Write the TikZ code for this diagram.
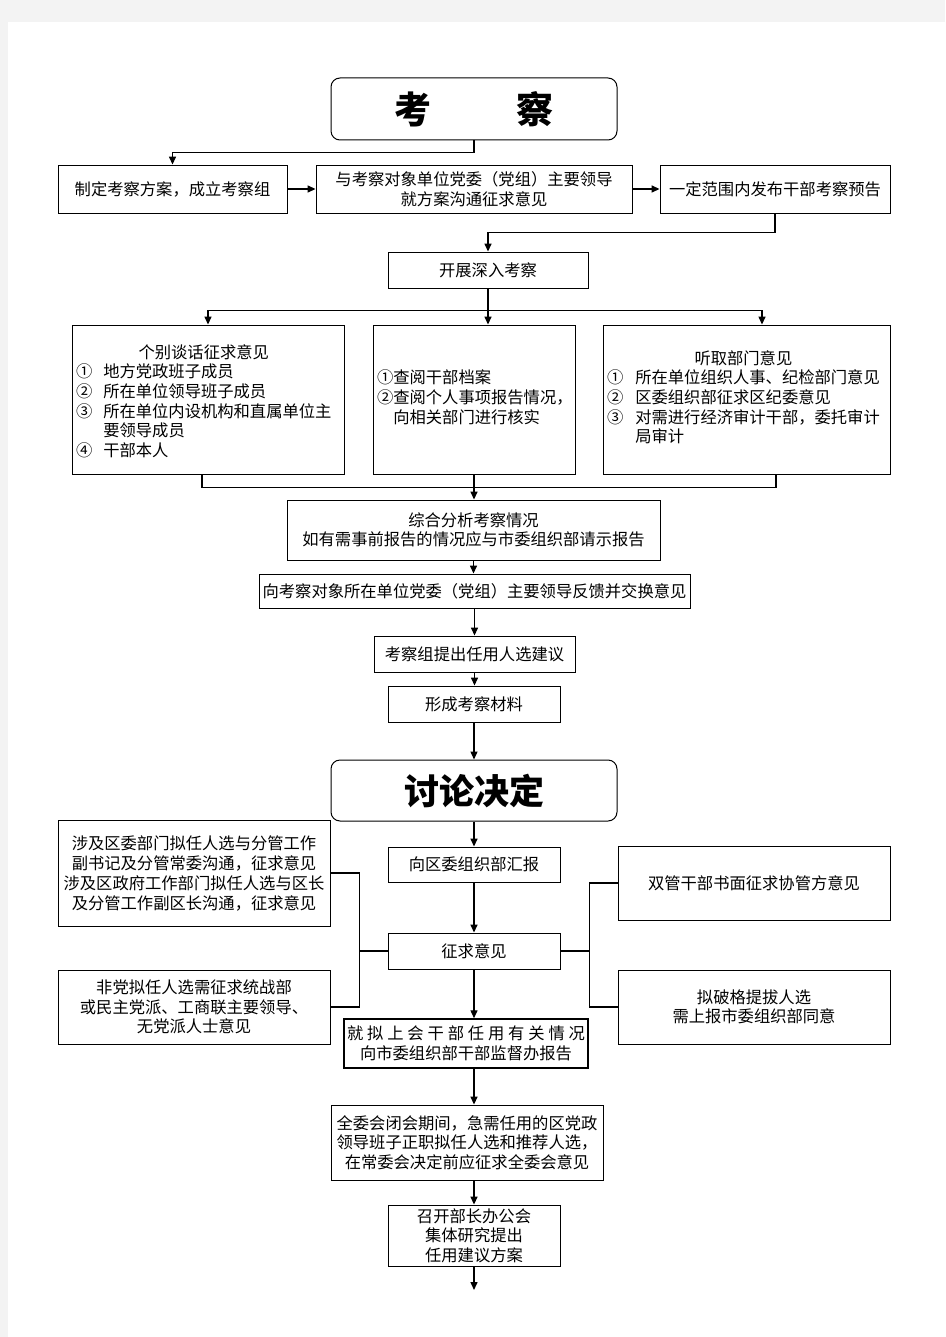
\documentclass[tikz,border=0pt]{standalone}
\usepackage{fontspec}
\newfontfamily\cjk{Noto Sans CJK SC}
\usetikzlibrary{arrows.meta}
\definecolor{pagegray}{HTML}{F3F3F3}
\begin{document}
\begin{tikzpicture}[x=1pt, y=-1pt,
  every node/.style={font=\cjk\fontsize{16.3}{19.5}\selectfont, inner sep=0pt, align=center},
  box/.style={draw, line width=0.9pt},
  titlebox/.style={draw, line width=1pt, rounded corners=9pt, minimum width=286pt, font=\cjk\bfseries\fontsize{37}{40}\selectfont},
  arr/.style={line width=1.4pt, -{Triangle[length=8pt,width=7pt]}},
  con/.style={line width=1.4pt}]
\fill[pagegray] (0,0) rectangle (945,1337);
\fill[white] (8,22) rectangle (945,1337);
\useasboundingbox (0,0) rectangle (945,1337);

\node[titlebox, minimum height=62pt] (kc) at (474,109) {考\hspace{85pt}察};
\node[box, minimum width=229pt, minimum height=48pt] (fa) at (172.5,189) {制定考察方案，成立考察组};
\node[box, minimum width=316pt, minimum height=48pt] (gt) at (474,189) {与考察对象单位党委（党组）主要领导\\就方案沟通征求意见};
\node[box, minimum width=230pt, minimum height=48pt] (yg) at (775,189) {一定范围内发布干部考察预告};
\node[box, minimum width=200pt, minimum height=36pt] (kz) at (488,270) {开展深入考察};
\node[box, minimum width=272pt, minimum height=149pt, text width=264pt, align=left] (th) at (208,399.5) {%
  \begin{tabular}{@{}l@{\hspace{11pt}}l@{}}
  \multicolumn{2}{c}{\rule{0pt}{21.6pt}个别谈话征求意见}\\
  ① & 地方党政班子成员\\
  ② & 所在单位领导班子成员\\
  ③ & 所在单位内设机构和直属单位主\\
    & 要领导成员\\
  ④ & 干部本人
  \end{tabular}};
\node[box, minimum width=202pt, minimum height=149pt, text width=194pt, align=left] (da) at (474,399.5) {%
  \begin{tabular}{@{}l@{}l@{}}
  ① & 查阅干部档案\\
  ② & 查阅个人事项报告情况，\\
    & 向相关部门进行核实
  \end{tabular}};
\node[box, minimum width=287pt, minimum height=149pt, text width=279pt, align=left] (bm) at (746.5,399.5) {%
  \begin{tabular}{@{}l@{\hspace{12pt}}l@{}}
  \multicolumn{2}{c}{听取部门意见}\\
  ① & 所在单位组织人事、纪检部门意见\\
  ② & 区委组织部征求区纪委意见\\
  ③ & 对需进行经济审计干部，委托审计\\
    & 局审计
  \end{tabular}};
\node[box, minimum width=373pt, minimum height=60pt] (fx) at (473.5,530) {综合分析考察情况\\如有需事前报告的情况应与市委组织部请示报告};
\node[box, minimum width=431pt, minimum height=34pt] (fk) at (474.5,591) {向考察对象所在单位党委（党组）主要领导反馈并交换意见};
\node[box, minimum width=201pt, minimum height=36pt] (jy) at (474.5,654) {考察组提出任用人选建议};
\node[box, minimum width=172pt, minimum height=36pt] (cl) at (474,704) {形成考察材料};

\node[titlebox, minimum height=61pt, font=\cjk\bfseries\fontsize{35}{38}\selectfont] (tl) at (474,790.5) {讨论决定};
\node[box, minimum width=172pt, minimum height=35pt] (hb) at (474,864.5) {向区委组织部汇报};
\node[box, minimum width=172pt, minimum height=36pt] (zq) at (474,951) {征求意见};
\node[box, line width=1.5pt, minimum width=244pt, minimum height=49pt] (bg) at (466,1043.5) {\makebox[238pt]{就\hfill 拟\hfill 上\hfill 会\hfill 干\hfill 部\hfill 任\hfill 用\hfill 有\hfill 关\hfill 情\hfill 况}\\向市委组织部干部监督办报告};
\node[box, minimum width=272pt, minimum height=106pt, font=\cjk\fontsize{16.3}{20}\selectfont] (zl1) at (194,873) {涉及区委部门拟任人选与分管工作\\副书记及分管常委沟通，征求意见\\涉及区政府工作部门拟任人选与区长\\及分管工作副区长沟通，征求意见};
\node[box, minimum width=272pt, minimum height=74pt] (zl2) at (194,1007) {非党拟任人选需征求统战部\\或民主党派、工商联主要领导、\\无党派人士意见};
\node[box, minimum width=272pt, minimum height=74pt] (yr1) at (754,883) {双管干部书面征求协管方意见};
\node[box, minimum width=272pt, minimum height=74pt] (yr2) at (754,1007) {拟破格提拔人选\\需上报市委组织部同意};
\node[box, minimum width=272pt, minimum height=75pt] (qw) at (467,1142.5) {全委会闭会期间，急需任用的区党政\\领导班子正职拟任人选和推荐人选，\\在常委会决定前应征求全委会意见};
\node[box, minimum width=172pt, minimum height=61pt] (bz) at (474,1235.5) {召开部长办公会\\集体研究提出\\任用建议方案};
\coordinate (end) at (474,1290);

\draw[arr] (kc.south) -- ++(0,12) -| (fa.north);
\draw[arr] (fa.east) -- (gt.west);
\draw[arr] (gt.east) -- (yg.west);
\draw[arr] (yg.south) -- ++(0,19) -| (kz.north);
\draw[con] (kz.south) -- ++(0,22) coordinate (sp);
\draw[arr] (sp) -| (th.north);
\draw[arr] (sp) -- (sp |- da.north);
\draw[arr] (sp) -| ([xshift=15.5pt]bm.north);
\draw[con] ([xshift=-6pt]th.south) -- ++(0,13) -| ([xshift=29.5pt]bm.south);
\draw[arr] (da.south) -- (da.south |- fx.north);
\draw[arr] (fx.south) -- (fx.south |- fk.north);
\draw[arr] (fk.south) -- (fk.south |- jy.north);
\draw[arr] (jy.south) -- (jy.south |- cl.north);
\draw[arr] (cl.south) -- (tl.north);
\draw[arr] (tl.south) -- (hb.north);
\draw[arr] (hb.south) -- (zq.north);
\draw[arr] (zq.south) -- (zq.south |- bg.north);
\draw[arr] (zq.south |- bg.south) -- (zq.south |- qw.north);
\draw[arr] (bz.north |- qw.south) -- (bz.north);
\draw[arr] (bz.south) -- (end);

\draw[con] (zl1.east) -- ++(29,0) |- (zl2.east);
\draw[con] (zq.west) -- ++(-29,0);
\draw[con] (yr1.west) -- ++(-28,0) |- (yr2.west);
\draw[con] (zq.east) -- ++(30,0);
\end{tikzpicture}
\end{document}
